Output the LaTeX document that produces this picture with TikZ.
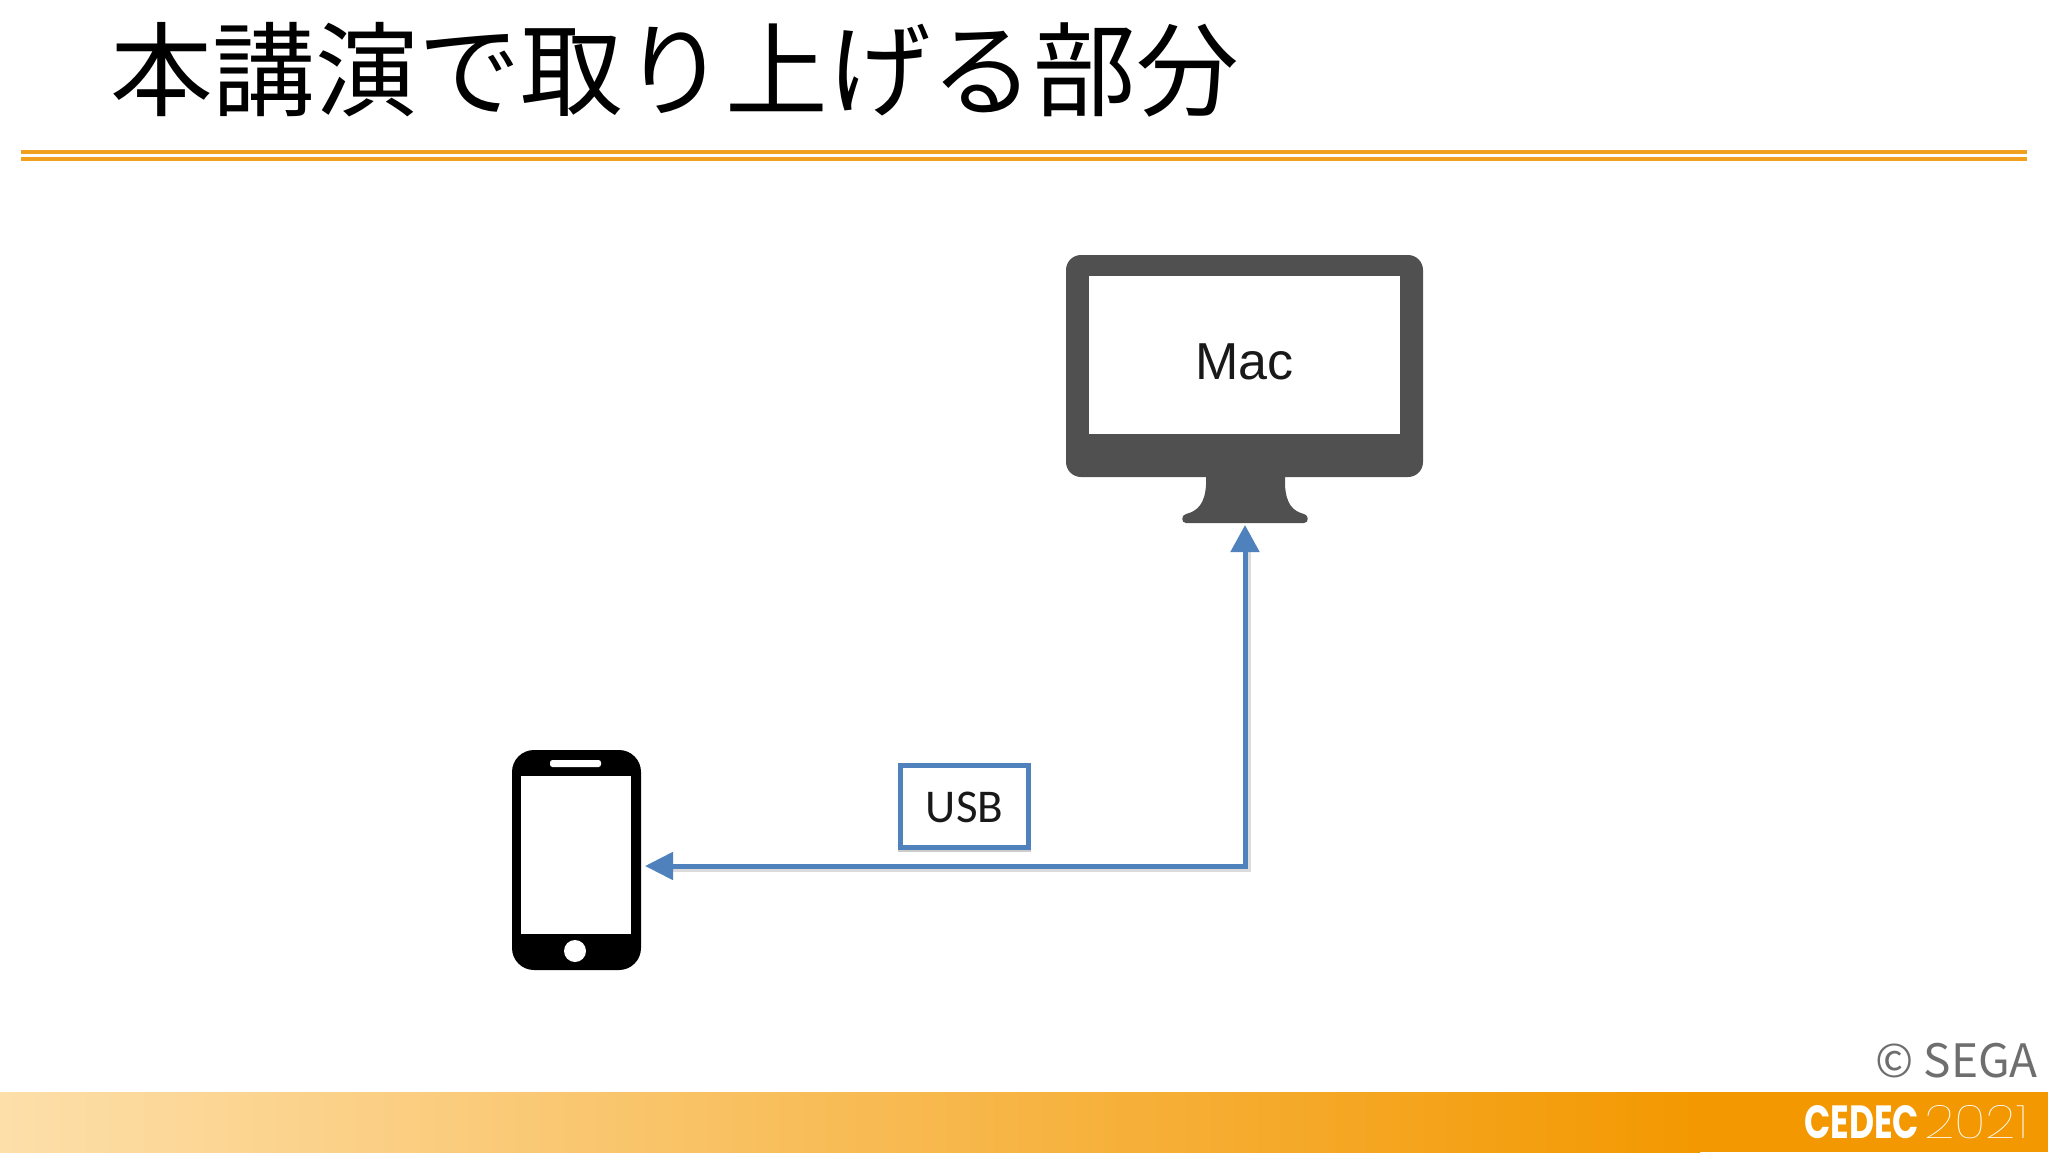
\documentclass[tikz,border=0pt]{standalone}
\usepackage{fontspec}
\usepackage{graphicx}
\usetikzlibrary{arrows.meta}
\setmainfont{Liberation Sans}
\newfontfamily\jpfont{Noto Sans CJK JP}
\newfontfamily\usbfont{Carlito}
\newfontfamily\logofont{Poppins}
\definecolor{bandorange}{HTML}{F39800}
\definecolor{bandlight}{HTML}{FDDFAA}
\definecolor{rulecol}{HTML}{F0A01E}
\definecolor{monitorgray}{HTML}{505050}
\definecolor{usbblue}{HTML}{4F81BD}
\definecolor{segagray}{HTML}{6E6E6E}
\tikzset{
  rulestyle/.style={draw=rulecol,line width=3.2pt},
  usbline/.style={draw=usbblue,line width=5pt,{Triangle[length=28pt,width=27pt]}-{Triangle[length=27pt,width=28pt]}},
  shadowline/.style={draw=black!14,line width=5pt},
  screenbox/.style={fill=white,draw=none,inner sep=0pt,anchor=north west},
  labelbox/.style={draw=usbblue,fill=white,line width=5pt,inner sep=0pt,minimum width=128pt,minimum height=82pt,text depth=0pt,text height=31pt},
}
\begin{document}
\begin{tikzpicture}[x=1pt,y=-1pt]
\useasboundingbox (0,0) rectangle (2048,1152);
\fill[white] (0,0) rectangle (2048,1152);
% title
\node[anchor=base west,inner sep=0pt,font=\jpfont\fontsize{102.6}{103}\selectfont] (title) at (110,108) {本講演で取り上げる部分};
\coordinate (ruleL) at (21,152); \coordinate (ruleR) at (2027,152);
\coordinate (ruleLb) at (21,159); \coordinate (ruleRb) at (2027,159);
\draw[rulestyle] (ruleL) -- (ruleR);
\draw[rulestyle] (ruleLb) -- (ruleRb);
% band
\fill[bandorange] (1700,1092) rectangle (2048,1152);
\shade[left color=bandlight,right color=bandorange] (0,1092) rectangle (1700,1152);
\node[anchor=base east,inner sep=0pt,text=segagray,font=\jpfont\fontsize{46}{46}\selectfont] (sega) at (2038,1077) {© SEGA};
\node[anchor=south west,inner sep=0pt,text=white] (cedec) at (1804,1139) {\resizebox{115pt}{33pt}{\logofont\bfseries CEDEC}};
\node[anchor=south west,inner sep=0pt,text=white] (yr) at (1924,1139) {\resizebox{104pt}{33pt}{\fontspec{Poppins Thin}2021}};
% monitor
\fill[monitorgray,rounded corners=15pt] (1066,255) rectangle (1423,477);
\fill[monitorgray] (1206,470) -- (1285,470) -- (1285,485)
  .. controls (1286,503) and (1292,511) .. (1304,514)
  .. controls (1309,515) and (1309,523) .. (1304,523)
  -- (1186,523)
  .. controls (1181,523) and (1181,515) .. (1186,514)
  .. controls (1198,511) and (1205,503) .. (1206,485) -- cycle;
\node[screenbox,minimum width=311pt,minimum height=158pt,text=black!90,text depth=0pt,text height=48pt,font=\fontsize{52}{52}\selectfont] (mac) at (1089,276) {Mac};
% phone
\fill[black,rounded corners=22pt] (512,750) rectangle (641,970);
\node[screenbox,minimum width=110pt,minimum height=158pt] (phone) at (521,776) {};
\fill[white,rounded corners=2.5pt] (550,760) rectangle (601,767);
\fill[white] (575,951) circle (11pt);
% connector
\coordinate (phonePort) at (645,866);
\coordinate (macPort) at (1245,525);
\coordinate (shadowA) at (672,869);
\coordinate (shadowB) at (1248,869);
\coordinate (shadowC) at (1248,552);
\draw[shadowline] (shadowA) -- (shadowB) -- (shadowC);
\draw[usbline] (phonePort) -| (macPort);
% usb label
\fill[black!20] (898,766) rectangle (1031,852);
\node[labelbox,anchor=north west,font=\usbfont\fontsize{47}{47}\selectfont,text=black!90] (usb) at (898,763) {USB};
\end{tikzpicture}
\end{document}
